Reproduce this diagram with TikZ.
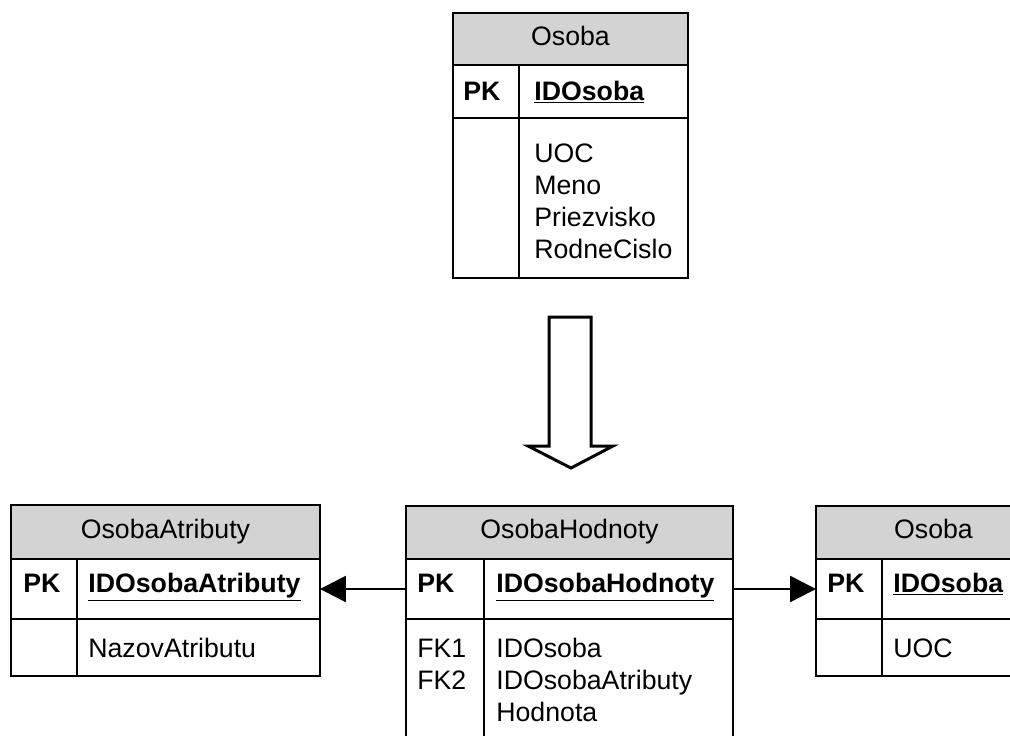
\documentclass[tikz,border=0pt]{standalone}
\usepackage{fontspec}
\setmainfont{Liberation Sans}
\usetikzlibrary{arrows.meta}
\definecolor{hdrgray}{RGB}{211,211,211}
\tikzset{
  hdr/.style={draw, fill=hdrgray, line width=1pt, anchor=north west, inner sep=0pt, outer sep=0pt, text height=0.72em, text depth=0pt},
  cell/.style={draw, line width=1pt, anchor=north west, inner sep=0pt, outer sep=0pt},
  txt/.style={anchor=base west, inner sep=0pt},
  conn/.style={line width=1.4pt, -{Triangle[length=0.52cm,width=0.52cm]}},
}

\begin{document}
\begin{tikzpicture}[x=0.02cm, y=-0.02cm, font=\fontsize{15.2}{18.2}\selectfont]
\clip (0,0) rectangle (1010,735);

% povodna tabulka Osoba
\node[hdr, minimum width=4.7cm, minimum height=1.04cm] (th) at (453,13) {Osoba};
\node[cell, minimum width=4.7cm, minimum height=1.06cm] (tpk) at (th.south west) {};
\node[cell, minimum width=4.7cm, minimum height=3.2cm] (tb) at (tpk.south west) {};
\draw[line width=1pt] (519,65) -- (519,278);
\node[txt] (tk) at (463,100) {\textbf{PK}};
\node[txt] (tid) at (534,100) {\underline{\textbf{IDOsoba}}};
\foreach \y/\attr in {162/UOC,194/Meno,226/Priezvisko,258/RodneCislo}
  \node[txt] (t\y) at (534,\y) {\attr};

% velka sipka
\draw[line width=1.7pt] (549,317) -- (591,317) -- (591,446) -- (613,446) -- (571,468)
  -- (528,446) -- (549,446) -- cycle;

% OsobaAtributy
\node[hdr, minimum width=6.18cm, minimum height=1.08cm] (atrh) at (11,505) {OsobaAtributy};
\node[cell, minimum width=6.18cm, minimum height=1.2cm] (atrpk) at (atrh.south west) {};
\node[cell, minimum width=6.18cm, minimum height=1.14cm] (atrb) at (atrpk.south west) {};
\draw[line width=1pt] (77,559) -- (77,676);
\node[txt] (atrk) at (23,592) {\textbf{PK}};
\node[txt] (atrid) at (88,592) {\underline{\textbf{IDOsobaAtributy}}};
\node[txt] (atrn) at (88,657) {NazovAtributu};

% OsobaHodnoty
\node[hdr, minimum width=6.54cm, minimum height=1.06cm] (hodh) at (406,506) {OsobaHodnoty};
\node[cell, minimum width=6.54cm, minimum height=1.2cm] (hodpk) at (hodh.south west) {};
\node[cell, minimum width=6.54cm, minimum height=2.8cm] (hodb) at (hodpk.south west) {};
\draw[line width=1pt] (484,559) -- (484,760);
\node[txt] (hodk) at (417,592) {\textbf{PK}};
\node[txt] (hodid) at (496,592) {\underline{\textbf{IDOsobaHodnoty}}};
\foreach \y/\fk/\attr in {657/FK1/IDOsoba,689/FK2/IDOsobaAtributy}{
  \node[txt] (hodf\y) at (417,\y) {\fk};
  \node[txt] (hoda\y) at (496,\y) {\attr};
}
\node[txt] (hoda721) at (496,721) {Hodnota};

% Osoba
\node[hdr, minimum width=4.7cm, minimum height=1.06cm] (oh) at (816,506) {Osoba};
\node[cell, minimum width=4.7cm, minimum height=1.2cm] (opk) at (oh.south west) {};
\node[cell, minimum width=4.7cm, minimum height=1.14cm] (ob) at (opk.south west) {};
\draw[line width=1pt] (882,559) -- (882,676);
\node[txt] (ok) at (827,592) {\textbf{PK}};
\node[txt] (oid) at (893,592) {\underline{\textbf{IDOsoba}}};
\node[txt] (ouoc) at (893,657) {UOC};

% vztahy
\draw[conn] (hodpk.west) -- (hodpk.west -| atrpk.east);
\draw[conn] (hodpk.east) -- (hodpk.east -| opk.west);
\end{tikzpicture}
\end{document}
